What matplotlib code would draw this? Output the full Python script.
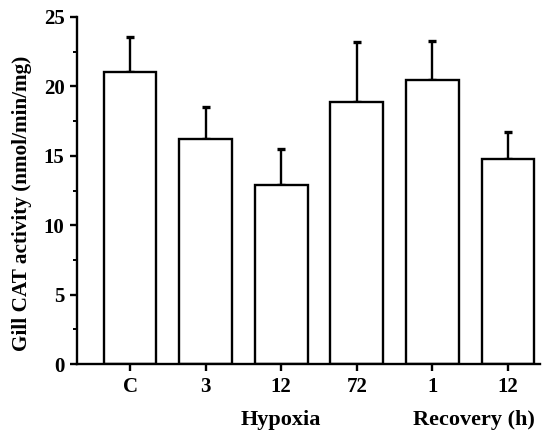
import matplotlib
matplotlib.use("Agg")
import matplotlib.pyplot as plt
from matplotlib.ticker import MultipleLocator
import matplotlib.transforms as mtransforms

categories = ["C", "3", "12", "72", "1", "12"]
means = [21.05, 16.2, 12.9, 18.85, 20.45, 14.8]
errors = [2.5, 2.3, 2.6, 4.35, 2.85, 1.9]
group_labels = ["Hypoxia", "Recovery (h)"]
group_centers = [2.0, 4.55]
y_label = "Gill CAT activity (nmol/min/mg)"

plt.rcParams['font.family'] = ['Liberation Serif', 'DejaVu Serif']
plt.rcParams['font.weight'] = 'bold'

fig = plt.figure(figsize=(5.43, 4.34), dpi=100)
ax = fig.add_axes([0.142, 0.161, 0.852, 0.8])

x = list(range(len(categories)))
ax.bar(x, means, width=0.7, color='white', edgecolor='black', linewidth=1.7, zorder=2)
ax.errorbar(x, means, yerr=[[0]*len(errors), errors], fmt='none', ecolor='black',
            elinewidth=1.7, capsize=3.2, capthick=2.4, zorder=1)

ax.set_xlim(-0.7, 5.42)
ax.set_ylim(0, 25)
ax.yaxis.set_major_locator(MultipleLocator(5))
ax.yaxis.set_minor_locator(MultipleLocator(2.5))
ax.set_xticks(x)
ax.set_xticklabels(categories)

for s in ['top', 'right']:
    ax.spines[s].set_visible(False)
for s in ['left', 'bottom']:
    ax.spines[s].set_linewidth(1.7)

ax.tick_params(axis='both', which='major', direction='out', length=5, width=1.7,
               labelsize=15, pad=4)
ax.tick_params(axis='y', which='minor', direction='out', length=3, width=1.4)
for lab in ax.get_xticklabels() + ax.get_yticklabels():
    lab.set_fontweight('bold')

ax.set_ylabel(y_label, fontsize=15.3, fontweight='bold')
ax.yaxis.set_label_coords(-0.097, 0.464)

trans = mtransforms.blended_transform_factory(ax.transData, ax.transAxes)
for lbl, cx in zip(group_labels, group_centers):
    ax.text(cx, -0.176, lbl, transform=trans, ha='center', va='baseline',
            fontsize=16, fontweight='bold')

fig.savefig("out.png", dpi=100)
